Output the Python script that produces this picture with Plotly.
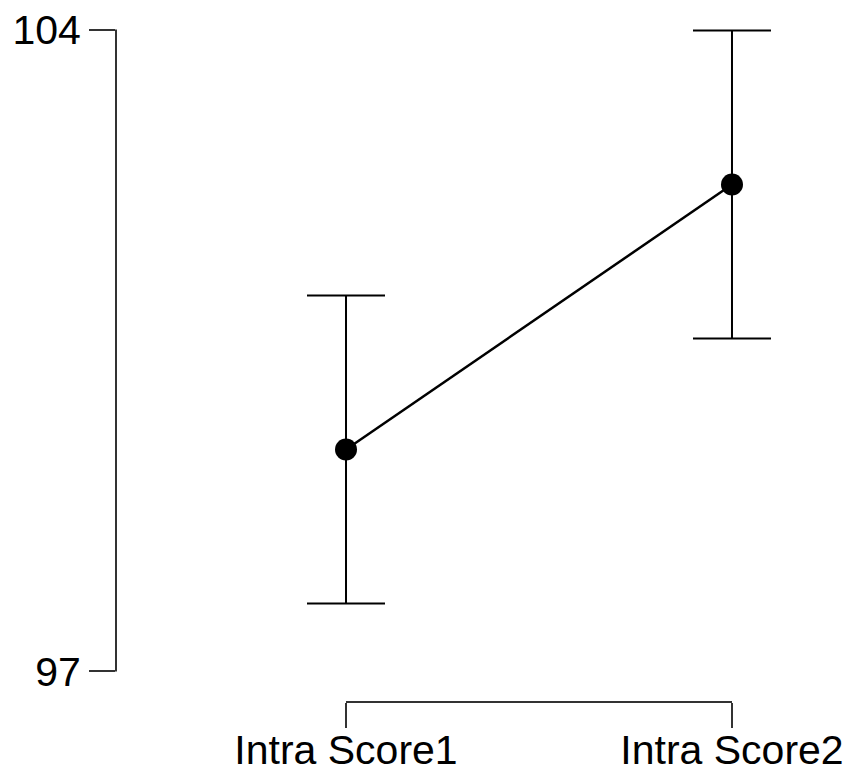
import plotly.graph_objects as go

categories = ["Intra Score1", "Intra Score2"]
means = [99.42, 102.31]
ci_half = [1.68, 1.68]
y_tick_vals = [97, 104]
y_tick_text = ["97", "104"]

xpos = list(range(len(categories)))

fig = go.Figure()
fig.add_trace(go.Scatter(
    x=xpos, y=means, mode="lines+markers",
    line=dict(color="black", width=2.5),
    marker=dict(color="black", size=22),
    error_y=dict(type="data", array=ci_half, visible=True,
                 color="black", thickness=2, width=39),
    showlegend=False,
))

axis_color = "#333333"
# range-frame axis lines
fig.add_shape(type="line", xref="paper", yref="y", x0=0, x1=0,
              y0=min(y_tick_vals), y1=max(y_tick_vals),
              line=dict(color=axis_color, width=2))
fig.add_shape(type="line", xref="x", yref="paper", x0=xpos[0], x1=xpos[-1],
              y0=0, y1=0, line=dict(color=axis_color, width=2))

fig.update_layout(
    template="none",
    width=846, height=770,
    margin=dict(l=108, r=10, t=2, b=76, pad=0, autoexpand=False),
    plot_bgcolor="white", paper_bgcolor="white",
    font=dict(family="Liberation Sans, Arial, sans-serif", size=41, color="black"),
    xaxis=dict(range=[-0.5959, 1.2902], tickvals=xpos, ticktext=categories,
               showline=False, showgrid=False, zeroline=False, automargin=False,
               ticks="outside", ticklen=25, tickwidth=2, tickcolor=axis_color,
               ticklabelstandoff=-13, ticklabeloverflow="allow"),
    yaxis=dict(range=[96.667, 104.213], tickvals=y_tick_vals, ticktext=y_tick_text,
               showline=False, showgrid=False, zeroline=False, automargin=False,
               ticks="outside", ticklen=26, tickwidth=2, tickcolor=axis_color,
               ticklabeloverflow="allow"),
)

fig.write_html("out.html")
